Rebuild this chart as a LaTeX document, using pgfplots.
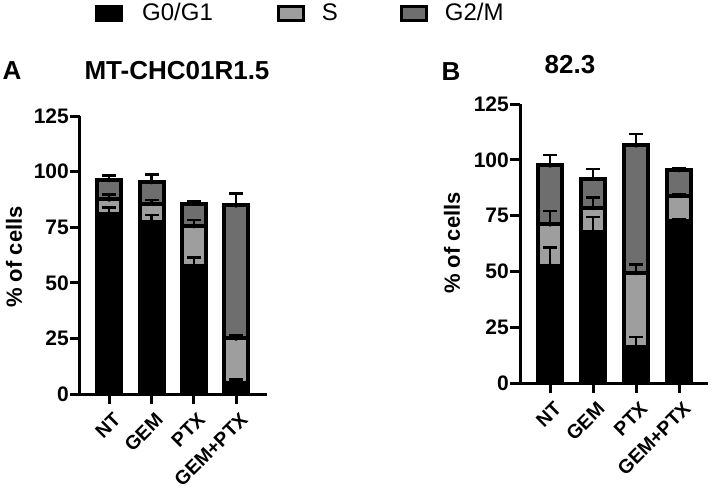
\documentclass[border=0pt]{standalone}
\usepackage{pgfplots}
\pgfplotsset{compat=1.18}
\usepackage{pgfplotstable}
\usepackage{fontspec}
\setmainfont{Liberation Sans}
\definecolor{sgray}{HTML}{9E9E9E}
\definecolor{ggray}{HTML}{6E6E6E}

\pgfplotstableread{
x g0 s g2m eg0 es eg2m
0 81.0 6.5 8.7 2.8 2.1 2.0
1 77.5 8.1 9.7 3.0 1.6 3.5
2 57.5 18.0 10.1 3.8 2.7 1.2
3 4.8 20.2 59.8 1.8 1.5 5.3
}\dataA

\pgfplotstableread{
x g0 s g2m eg0 es eg2m
0 52.6 18.5 26.4 8.2 6.0 4.7
1 67.5 10.9 13.1 6.9 4.8 4.4
2 16.3 33.0 57.2 4.2 3.7 5.1
3 72.6 11.3 11.5 0.6 0.8 0.6
}\dataB

\pgfplotsset{
  cellaxis/.style={
    scale only axis,
    anchor=south west,
    ymin=0, ymax=125, ytick={0,25,50,75,100,125},
    xtick={0,1,2,3}, xticklabels={NT,GEM,PTX,GEM+PTX},
    axis x line=bottom, axis y line=left,
    axis line style={-, line width=3pt, black},
    tick align=outside, major tick length=10pt,
    tick style={line width=3pt, black},
    x tick label style={yshift=-6pt, xshift=3pt, rotate=45, anchor=north east, font=\fontsize{19.5}{22}\selectfont\bfseries, inner sep=1pt},
    y tick label style={font=\fontsize{21}{24}\selectfont\bfseries, inner sep=1pt},
    /pgf/number format/assume math mode=true,
    ylabel={\% of cells},
    ylabel style={font=\fontsize{22}{26}\selectfont\bfseries, anchor=center},
    clip=false,
  },
  segbar/.style={ybar, bar width=24pt, bar shift=0pt, draw=black, line width=4pt, forget plot},
  errplot/.style={only marks, mark=none, black, forget plot,
    error bars/.cd, y dir=plus, y explicit,
    error bar style={line width=2.5pt, black},
    error mark options={rotate=90, line width=2.5pt, mark size=7pt, black}},
}

\begin{document}
\begin{tikzpicture}
\path[use as bounding box] (0pt,0pt) rectangle (712pt,491pt);

\begin{axis}[cellaxis,
  at={(80pt,97pt)}, width=187pt, height=278pt,
  xmin=-0.69, xmax=3.73,
  ylabel style={at={(axis description cs:-0.353,0.493)}},
  legend columns=3,
  legend cell align=left,
  legend style={at={(axis description cs:0.0802,1.3705)}, anchor=west,
    draw=none, fill=none, inner sep=0pt, column sep=0pt,
    nodes={inner sep=0pt},
    font=\fontsize{24}{28}\selectfont},
]
\addplot[segbar, fill=ggray] table[x=x, y expr=\thisrow{g0}+\thisrow{s}+\thisrow{g2m}] {\dataA};
\addplot[segbar, fill=sgray] table[x=x, y expr=\thisrow{g0}+\thisrow{s}] {\dataA};
\addplot[segbar, fill=black] table[x=x, y=g0] {\dataA};
\addplot[errplot] table[x=x, y=g0, y error=eg0] {\dataA};
\addplot[errplot] table[x=x, y expr=\thisrow{g0}+\thisrow{s}, y error=es] {\dataA};
\addplot[errplot] table[x=x, y expr=\thisrow{g0}+\thisrow{s}+\thisrow{g2m}, y error=eg2m] {\dataA};

\addlegendimage{legend image code/.code={\path[draw=none, fill=none] (0pt,0pt) -- (47pt,0pt); \draw[line width=3pt, draw=black, fill=black] (1.5pt,-7pt) rectangle (26.5pt,7pt);}}
\addlegendentry{G0/G1}
\addlegendimage{legend image code/.code={\path[draw=none, fill=none] (-64pt,0pt) -- (45pt,0pt); \draw[line width=3pt, draw=black, fill=sgray] (1.5pt,-7pt) rectangle (26.5pt,7pt);}}
\addlegendentry{S}
\addlegendimage{legend image code/.code={\path[draw=none, fill=none] (-62pt,0pt) -- (45pt,0pt); \draw[line width=3pt, draw=black, fill=ggray] (1.5pt,-7pt) rectangle (26.5pt,7pt);}}
\addlegendentry{G2/M}
\end{axis}

\begin{axis}[cellaxis,
  at={(520pt,108pt)}, width=188pt, height=279pt,
  xmin=-0.70, xmax=3.67,
  ylabel style={at={(axis description cs:-0.362,0.502)}},
]
\addplot[segbar, fill=ggray] table[x=x, y expr=\thisrow{g0}+\thisrow{s}+\thisrow{g2m}] {\dataB};
\addplot[segbar, fill=sgray] table[x=x, y expr=\thisrow{g0}+\thisrow{s}] {\dataB};
\addplot[segbar, fill=black] table[x=x, y=g0] {\dataB};
\addplot[errplot] table[x=x, y=g0, y error=eg0] {\dataB};
\addplot[errplot] table[x=x, y expr=\thisrow{g0}+\thisrow{s}, y error=es] {\dataB};
\addplot[errplot] table[x=x, y expr=\thisrow{g0}+\thisrow{s}+\thisrow{g2m}, y error=eg2m] {\dataB};
\end{axis}

\begin{scope}[every node/.style={font=\fontsize{26}{30}\selectfont\bfseries, inner sep=0pt}]
\node at (12pt,420pt) {A};
\node at (177pt,420pt) {MT-CHC01R1.5};
\node at (451pt,419.5pt) {B};
\node at (570pt,426pt) {82.3};
\end{scope}
\end{tikzpicture}
\end{document}
